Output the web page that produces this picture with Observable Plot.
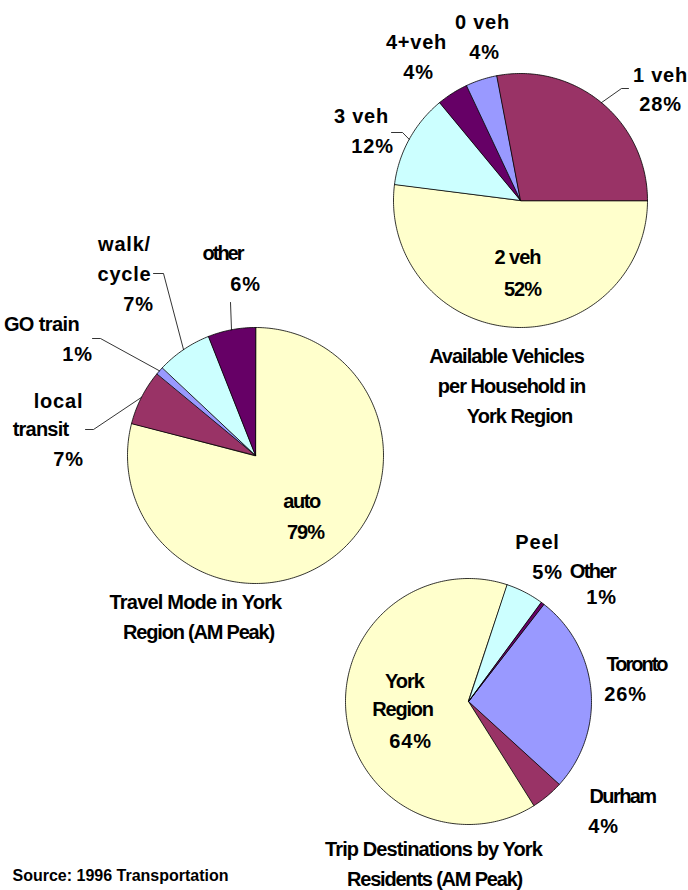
<!DOCTYPE html>
<html>
<head>
<meta charset="utf-8">
<script src="https://cdn.jsdelivr.net/npm/d3@7"></script>
<script src="https://cdn.jsdelivr.net/npm/@observablehq/plot@0.6"></script>
<style>
  html, body { margin: 0; padding: 0; background: #ffffff; overflow: hidden; }
  #chart svg { display: block; overflow: visible; }
</style>
</head>
<body>
<div id="chart"></div>
<script>
// ---------------- DATA ----------------
// Available vehicles per household (listed clockwise from 3 o'clock)
const vehicleCategories = ["2 veh", "3 veh", "4+veh", "0 veh", "1 veh"];
const vehicleShares = [52, 12, 4, 4, 28];
const vehicleNameLines = [["2 veh"], ["3 veh"], ["4+veh"], ["0 veh"], ["1 veh"]];
const vehiclePctLabels = ["52%", "12%", "4%", "4%", "28%"];
const vehicleTitle = ["Available Vehicles", "per Household in", "York Region"];

// Travel mode (clockwise from 12 o'clock)
const modeCategories = ["auto", "local transit", "GO train", "walk/cycle", "other"];
const modeShares = [79, 7, 1, 7, 6];
const modeNameLines = [["auto"], ["local", "transit"], ["GO train"], ["walk/", "cycle"], ["other"]];
const modePctLabels = ["79%", "7%", "1%", "7%", "6%"];
const modeTitle = ["Travel Mode in York", "Region (AM Peak)"];

// Trip destinations (clockwise)
const destCategories = ["Toronto", "Durham", "York Region", "Peel", "Other"];
const destShares = [26.3, 4.3, 64.0, 5.0, 0.4];
const destNameLines = [["Toronto"], ["Durham"], ["York", "Region"], ["Peel"], ["Other"]];
const destPctLabels = ["26%", "4%", "64%", "5%", "1%"];
const destTitle = ["Trip Destinations by York", "Residents (AM Peak)"];

const sourceLines = ["Source: 1996 Transportation", "Tomorrow Survey"];

// ---------------- STYLES ----------------
const C = {yellow: "#FFFFCC", plum: "#993366", lavender: "#9999FF", cyan: "#CCFFFF", purple: "#660066"};
const vehicleColors = {"2 veh": C.yellow, "3 veh": C.cyan, "4+veh": C.purple, "0 veh": C.lavender, "1 veh": C.plum};
const modeColors = {"auto": C.yellow, "local transit": C.plum, "GO train": C.lavender, "walk/cycle": C.cyan, "other": C.purple};
const destColors = {"Toronto": C.lavender, "Durham": C.plum, "York Region": C.yellow, "Peel": C.cyan, "Other": C.purple};

// ---------------- LAYOUT ----------------
// pie geometry: centre, radius, start angle (degrees clockwise from 12 o'clock)
const vehicleLayout = {
  cx: 520, cy: 200, r: 127, start: 90,
  labels: [
    {name: [[517, 263]], pct: [522, 295]},
    {name: [[361, 122]], pct: [372, 152], leader: [[391, 132], [402, 132]]},
    {name: [[416, 48]], pct: [418, 78]},
    {name: [[482, 28]], pct: [484, 58]},
    {name: [[660, 81]], pct: [660, 110], leader: [[628, 88], [621, 88]]}
  ],
  title: [[506, 362], [511, 392], [519, 422]]
};
const modeLayout = {
  cx: 255, cy: 455, r: 128, start: 0,
  labels: [
    {name: [[301, 507]], pct: [305, 538]},
    {name: [[58, 407], [40, 435]], pct: [68, 465], leader: [[85, 429], [93, 429]]},
    {name: [[41, 330]], pct: [77, 360], leader: [[92, 338], [100, 338]]},
    {name: [[124, 250], [124, 280]], pct: [138, 310], leader: [[153, 273], [163, 273]]},
    {name: [[222, 259]], pct: [245, 290], leader: [[230, 302]]}
  ],
  title: [[195, 608], [198, 638]]
};
const destLayout = {
  cx: 468, cy: 701, r: 123, start: 37.7,
  labels: [
    {name: [[636, 670]], pct: [625, 700]},
    {name: [[622, 802]], pct: [603, 832]},
    {name: [[404, 687], [402, 715]], pct: [410, 747]},
    {name: [[537, 548]], pct: [547, 578]},
    {name: [[592, 577]], pct: [601, 603]}
  ],
  title: [[433, 855], [434, 885]]
};
const sourceLayout = [[12, 880], [70, 898]];

// letter spacing (style) per text
const tight = {
  "2 veh": -1, "52%": -1, "auto": -1.4, "79%": -1, "other": -2, "GO train": -0.6, "transit": -0.8,
  "Toronto": -2, "Durham": -1.6, "Other": -1.6, "York": -1, "Region": -1.2,
  "Available Vehicles": -1, "per Household in": -1, "York Region": -1,
  "Travel Mode in York": -0.8, "Region (AM Peak)": -1.2,
  "Trip Destinations by York": -0.9, "Residents (AM Peak)": -1.2
};

// ---------------- BUILD ----------------
const slicesFeatures = [];
const leaderFeatures = [];
const labelRows = [];

function addPie(categories, values, nameLines, pctLabels, title, colors, L) {
  const a0 = L.start * Math.PI / 180;
  const arcs = d3.pie().sort(null).value(d => d).startAngle(a0).endAngle(a0 + 2 * Math.PI)(values);
  const pt = (t, r) => [L.cx + r * Math.sin(t), L.cy - r * Math.cos(t)];
  arcs.forEach((a, i) => {
    const n = Math.max(2, Math.ceil((a.endAngle - a.startAngle) / (Math.PI / 180)));
    const ring = [[L.cx, L.cy]];
    for (let k = 0; k <= n; k++) ring.push(pt(a.startAngle + (a.endAngle - a.startAngle) * k / n, L.r));
    ring.push([L.cx, L.cy]);
    slicesFeatures.push({
      type: "Feature",
      properties: {category: categories[i], value: values[i], fill: colors[categories[i]]},
      geometry: {type: "Polygon", coordinates: [ring]}
    });
    const lab = L.labels[i];
    nameLines[i].forEach((txt, j) => labelRows.push({x: lab.name[j][0], y: lab.name[j][1], text: txt}));
    labelRows.push({x: lab.pct[0], y: lab.pct[1], text: pctLabels[i]});
    if (lab.leader) {
      const mid = (a.startAngle + a.endAngle) / 2;
      leaderFeatures.push({type: "Feature", properties: {}, geometry: {type: "LineString", coordinates: [...lab.leader, pt(mid, L.r)]}});
    }
  });
  title.forEach((t, j) => labelRows.push({x: L.title[j][0], y: L.title[j][1], text: t}));
}

addPie(vehicleCategories, vehicleShares, vehicleNameLines, vehiclePctLabels, vehicleTitle, vehicleColors, vehicleLayout);
addPie(modeCategories, modeShares, modeNameLines, modePctLabels, modeTitle, modeColors, modeLayout);
addPie(destCategories, destShares, destNameLines, destPctLabels, destTitle, destColors, destLayout);

const sourceRows = sourceLines.map((t, i) => ({x: sourceLayout[i][0], y: sourceLayout[i][1], text: t}));

const plot = Plot.plot({
  width: 688,
  height: 890,
  margin: 0,
  projection: "identity",
  color: {type: "identity"},
  style: {background: "#ffffff", overflow: "visible"},
  marks: [
    Plot.geo(slicesFeatures, {fill: d => d.properties.fill, stroke: "#000000", strokeWidth: 0.8, strokeLinejoin: "round"}),
    Plot.geo(leaderFeatures, {fill: "none", stroke: "#000000", strokeWidth: 0.8}),
    Plot.text(labelRows, {
      x: "x", y: "y", text: "text", textAnchor: "middle", lineAnchor: "bottom",
      fontSize: 20, fontWeight: "bold", fontFamily: "Liberation Sans, Arial, sans-serif", fill: "#000000"
    }),
    Plot.text(sourceRows, {
      x: "x", y: "y", text: "text", textAnchor: "start", lineAnchor: "bottom",
      fontSize: 16, fontWeight: "bold", fontFamily: "Liberation Sans, Arial, sans-serif", fill: "#000000"
    })
  ]
});

plot.querySelectorAll("text").forEach(el => {
  const t = el.textContent;
  if (sourceLines.includes(t)) return;
  const ls = tight[t] !== undefined ? tight[t] : 0.8;
  el.setAttribute("letter-spacing", ls + "px");
});
plot.style.overflow = "visible";

document.getElementById("chart").appendChild(plot);
</script>
</body>
</html>
